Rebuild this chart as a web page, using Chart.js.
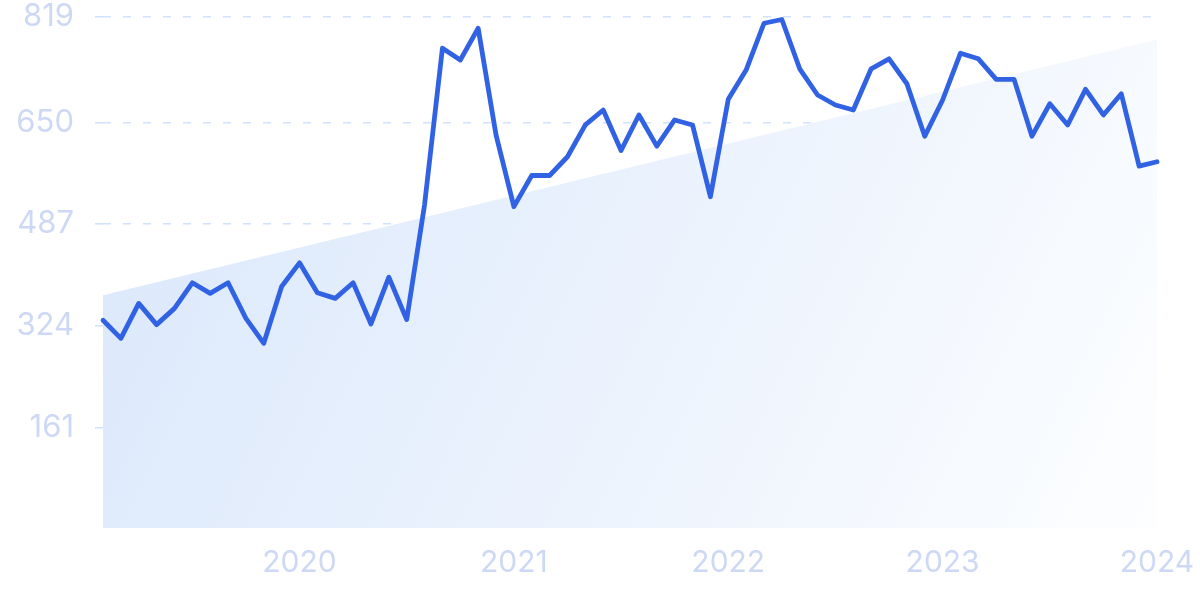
<!DOCTYPE html>
<html>
<head>
<meta charset="utf-8">
<script src="https://cdn.jsdelivr.net/npm/chart.js@4/dist/chart.umd.min.js"></script>
<style>
  html, body { margin: 0; padding: 0; background: #ffffff; }
  #wrap { width: 1200px; height: 600px; position: relative; }
</style>
</head>
<body>
<div id="wrap"><canvas id="c" width="1200" height="600"></canvas></div>
<script>
const months = [
  "2019-02","2019-03","2019-04","2019-05","2019-06","2019-07","2019-08","2019-09","2019-10","2019-11","2019-12",
  "2020-01","2020-02","2020-03","2020-04","2020-05","2020-06","2020-07","2020-08","2020-09","2020-10","2020-11","2020-12",
  "2021-01","2021-02","2021-03","2021-04","2021-05","2021-06","2021-07","2021-08","2021-09","2021-10","2021-11","2021-12",
  "2022-01","2022-02","2022-03","2022-04","2022-05","2022-06","2022-07","2022-08","2022-09","2022-10","2022-11","2022-12",
  "2023-01","2023-02","2023-03","2023-04","2023-05","2023-06","2023-07","2023-08","2023-09","2023-10","2023-11","2023-12",
  "2024-01"
];
const values = [
  333, 304, 360, 326, 352, 393, 376, 393, 336, 296, 387,
  425, 377, 368, 393, 327, 402, 334, 518, 769, 750, 801, 630,
  515, 565, 565, 595, 646, 670, 605, 662, 612, 654, 646, 531,
  687, 734, 809, 815, 736, 694, 678, 670, 736, 752, 712, 628,
  686, 761, 752, 719, 719, 628, 680, 646, 703, 662, 696, 580,
  587
];
const trendEnds = [373, 783];
const yTicks = [161, 324, 487, 650, 819];

const trendData = months.map((m, i) => i === 0 ? trendEnds[0] : (i === months.length - 1 ? trendEnds[1] : null));

const labelColor = '#cdd8f5';
const gridColor = '#d3e2fc';

new Chart(document.getElementById('c'), {
  type: 'line',
  data: {
    labels: months,
    datasets: [
      {
        label: 'Trend',
        data: trendData,
        spanGaps: true,
        borderWidth: 0,
        borderColor: 'rgba(0,0,0,0)',
        pointRadius: 0,
        fill: 'origin',
        order: 2,
        backgroundColor: (context) => {
          const { ctx, chartArea } = context.chart;
          if (!chartArea) return 'rgba(222,234,251,1)';
          const g = ctx.createLinearGradient(chartArea.left, chartArea.top, chartArea.right, chartArea.bottom);
          g.addColorStop(0, 'rgb(217,231,251)');
          g.addColorStop(0.55, 'rgb(236,243,253)');
          g.addColorStop(1, 'rgb(253,254,255)');
          return g;
        }
      },
      {
        label: 'Value',
        data: values,
        borderColor: '#3062e3',
        borderWidth: 4.8,
        pointRadius: 0,
        tension: 0,
        fill: false,
        borderJoinStyle: 'round',
        borderCapStyle: 'round',
        clip: false,
        order: 1
      }
    ]
  },
  options: {
    responsive: false,
    animation: false,
    layout: { padding: { top: 17, right: 43, left: 0, bottom: 0 } },
    plugins: { legend: { display: false }, tooltip: { enabled: false } },
    scales: {
      x: {
        type: 'category',
        grid: { display: false, drawTicks: false },
        border: { display: false },
        ticks: {
          autoSkip: false,
          maxRotation: 0,
          minRotation: 0,
          padding: 17,
          color: labelColor,
          font: { family: 'Inter', size: 30 },
          callback: function (val, index) {
            const m = months[index];
            return m.endsWith('-01') ? m.slice(0, 4) : '';
          }
        },
        afterFit: (scale) => { scale.height = 72; scale.paddingLeft = 0; scale.paddingRight = 0; }
      },
      y: {
        min: 0,
        max: 819,
        afterBuildTicks: (scale) => { scale.ticks = yTicks.map(v => ({ value: v })); },
        grid: {
          color: gridColor,
          lineWidth: 1.6,
          drawTicks: true,
          tickLength: 20,
          borderDash: [8, 12],
          tickBorderDash: [8, 12],
          tickBorderDashOffset: 8,
          tickColor: gridColor,
          tickWidth: 1.6
        },
        border: { display: false, dash: [8, 12] },
        ticks: {
          padding: 9,
          color: labelColor,
          font: { family: 'Inter', size: 31 },
          callback: (v) => String(v)
        },
        afterFit: (scale) => { scale.width = 103; scale.paddingTop = 0; scale.paddingBottom = 0; }
      }
    }
  }
});
</script>
</body>
</html>
